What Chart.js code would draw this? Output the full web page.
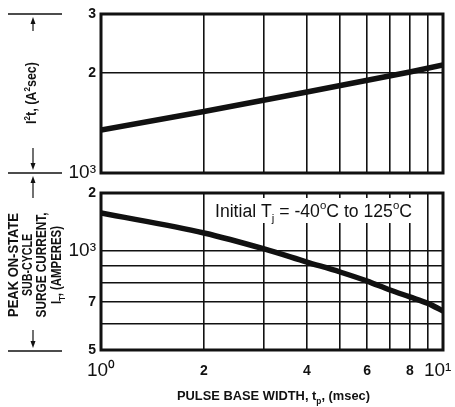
<!DOCTYPE html>
<html>
<head>
<meta charset="utf-8">
<script src="https://cdn.jsdelivr.net/npm/chart.js@4.4.1/dist/chart.umd.min.js"></script>
<style>
html,body{margin:0;padding:0;background:#fff;}
#wrap{position:relative;width:455px;height:407px;overflow:hidden;}
canvas{position:absolute;left:0;top:0;}
</style>
</head>
<body>
<div id="wrap">
<canvas id="c1" width="455" height="407"></canvas>
<canvas id="c2" width="455" height="407"></canvas>
</div>
<script>
// ---- data ----
const i2tWidth = [1, 2, 4, 8, 10];                     // msec
const i2tValues = [1346, 1530, 1750, 2010, 2110];      // A^2 sec
const surgeWidth = [1, 2, 3, 4, 5, 6, 7, 8, 9, 10];    // msec
const surgeCurrent = [1304, 1134, 1014, 925, 863, 810, 761, 725, 694, 657]; // A

const xTicks = [1, 2, 3, 4, 5, 6, 7, 8, 9, 10];
const xTickLabels = {1: '10⁰', 2: '2', 4: '4', 6: '6', 8: '8', 10: '10¹  '};
const topYTicks = [1000, 2000, 3000];
const topYTickLabels = {1000: '10³', 2000: '2', 3000: '3'};
const bottomYTicks = [500, 600, 700, 800, 900, 1000, 1500];
const bottomYTickLabels = {500: '5', 700: '7', 1000: '10³', 1500: '2'};
const bigLabels = ['10⁰', '10¹  ', '10³'];

const xTitle = [{t: 'PULSE BASE WIDTH, t'}, {t: 'p', sub: true}, {t: ', (msec)'}];
const topYTitle = [{t: 'I'}, {t: '2', sup: true}, {t: 't, (A'}, {t: '2', sup: true}, {t: 'sec)'}];
const bottomYTitle = [
  [{t: 'PEAK ON-STATE'}],
  [{t: 'SUB-CYCLE'}],
  [{t: 'SURGE CURRENT,'}],
  [{t: 'I'}, {t: 'T', sub: true}, {t: ', (AMPERES)'}]
];
const annotation = [{t: 'Initial T'}, {t: 'j', sub: true}, {t: ' = -40'}, {t: 'o', sup: true}, {t: 'C to 125'}, {t: 'o', sup: true}, {t: 'C'}];

// ---- styling ----
const BLACK = '#111';
const FAMILY = '"Liberation Sans", Arial, Helvetica, sans-serif';

function tickFontFor(labels) {
  return (ctx) => {
    const lab = ctx.tick ? labels[ctx.tick.value] : '';
    if (bigLabels.includes(lab)) return {family: FAMILY, size: 19, weight: 'normal', lineHeight: '22px'};
    return {family: FAMILY, size: 14, weight: 'bold', lineHeight: '22px'};
  };
}
function fixedTicks(values) {
  return (scale) => { scale.ticks = values.map(v => ({value: v})); };
}

function xScale(showLabels) {
  return {
    type: 'logarithmic', min: 1, max: 10,
    afterBuildTicks: fixedTicks(xTicks),
    ticks: {
      display: showLabels, autoSkip: false, maxRotation: 0, minRotation: 0,
      padding: 10, color: BLACK,
      font: tickFontFor(xTickLabels),
      callback: (v) => xTickLabels[v] ?? ''
    },
    grid: {color: BLACK, lineWidth: 1.6, drawTicks: false},
    border: {display: false},
    afterFit: (s) => { s.height = showLabels ? 57 : 0; s.paddingLeft = 0; s.paddingRight = 0; }
  };
}
function yScale(min, max, ticks, labels) {
  return {
    type: 'logarithmic', min: min, max: max,
    afterBuildTicks: fixedTicks(ticks),
    ticks: {
      autoSkip: false, padding: 5, color: BLACK,
      font: tickFontFor(labels),
      callback: (v) => labels[v] ?? ''
    },
    grid: {color: BLACK, lineWidth: 1.6, drawTicks: false},
    border: {display: false},
    afterFit: (s) => { s.width = 101; s.paddingTop = 0; s.paddingBottom = 0; }
  };
}

const framePlugin = {
  id: 'frame',
  afterDatasetsDraw(chart) {
    const {ctx, chartArea: a} = chart;
    ctx.save();
    ctx.strokeStyle = BLACK;
    ctx.lineWidth = 3;
    ctx.strokeRect(a.left, a.top, a.right - a.left, a.bottom - a.top);
    ctx.restore();
  }
};

// rich text helper: parts drawn along +x, baseline at y
function partFont(p, size, weight) {
  const fs = (p.sub || p.sup) ? size * 0.65 : size;
  return weight + ' ' + fs.toFixed(2) + 'px ' + FAMILY;
}
function drawRich(ctx, parts, x, y, size, weight, targetW, align) {
  let W = 0;
  for (const p of parts) { ctx.font = partFont(p, size, weight); W += ctx.measureText(p.t).width; }
  const k = targetW ? targetW / W : 1;
  ctx.save();
  ctx.translate(x, y);
  ctx.scale(k, 1);
  ctx.textAlign = 'left';
  ctx.textBaseline = 'alphabetic';
  ctx.fillStyle = BLACK;
  let cx = align === 'center' ? -W / 2 : 0;
  for (const p of parts) {
    ctx.font = partFont(p, size, weight);
    const dy = p.sub ? size * 0.28 : (p.sup ? -size * 0.42 : 0);
    ctx.fillText(p.t, cx, dy);
    cx += ctx.measureText(p.t).width;
  }
  ctx.restore();
}
function drawRotated(ctx, parts, cx, cy, size, weight, targetW) {
  ctx.save();
  ctx.translate(cx, cy);
  ctx.rotate(-Math.PI / 2);
  drawRich(ctx, parts, 0, size * 0.36, size, weight, targetW, 'center');
  ctx.restore();
}
function arrow(ctx, x, yFrom, yTo) {
  const dir = yTo > yFrom ? 1 : -1;
  ctx.beginPath();
  ctx.moveTo(x, yFrom);
  ctx.lineTo(x, yTo - dir * 5);
  ctx.stroke();
  ctx.beginPath();
  ctx.moveTo(x - 2.5, yTo - dir * 7);
  ctx.lineTo(x + 2.5, yTo - dir * 7);
  ctx.lineTo(x, yTo);
  ctx.closePath();
  ctx.fill();
}

const decorPlugin = {
  id: 'decor',
  afterDraw(chart) {
    const ctx = chart.ctx;
    ctx.save();
    // annotation inside lower panel
    ctx.fillStyle = '#fff';
    ctx.fillRect(209, 198, 210, 25);
    drawRich(ctx, annotation, 215, 217, 18, 'normal', 197, 'left');
    // x axis title
    drawRich(ctx, xTitle, 273.5, 400, 13, 'bold', 193, 'center');
    // left dimension lines
    ctx.strokeStyle = BLACK;
    ctx.fillStyle = BLACK;
    ctx.lineWidth = 1.5;
    for (const y of [14, 173, 351]) {
      ctx.beginPath(); ctx.moveTo(8, y); ctx.lineTo(62, y); ctx.stroke();
    }
    ctx.lineWidth = 1.2;
    arrow(ctx, 33, 31, 17);
    arrow(ctx, 33, 148, 170);
    arrow(ctx, 33, 198, 176);
    arrow(ctx, 33, 330, 348);
    // rotated axis titles
    drawRotated(ctx, topYTitle, 31, 93, 14, 'bold', 62);
    const xs = [12.5, 27, 41, 56];
    const lens = [104, 62, 105, 78];
    bottomYTitle.forEach((parts, i) => drawRotated(ctx, parts, xs[i], 265, 14, 'bold', lens[i]));
    ctx.restore();
  }
};

const common = {
  responsive: false, animation: false, devicePixelRatio: 1,
  plugins: {legend: {display: false}, tooltip: {enabled: false}}
};

new Chart(document.getElementById('c1'), {
  type: 'line',
  data: {datasets: [{
    data: i2tWidth.map((x, i) => ({x: x, y: i2tValues[i]})),
    borderColor: BLACK, borderWidth: 5.5, pointRadius: 0,
    tension: 0, fill: false
  }]},
  options: Object.assign({}, common, {
    layout: {padding: {left: 0, top: 14, right: 12, bottom: 234}},
    scales: {x: xScale(false), y: yScale(1000, 3000, topYTicks, topYTickLabels)}
  }),
  plugins: [framePlugin]
});

new Chart(document.getElementById('c2'), {
  type: 'line',
  data: {datasets: [{
    data: surgeWidth.map((x, i) => ({x: x, y: surgeCurrent[i]})),
    borderColor: BLACK, borderWidth: 5.5, pointRadius: 0,
    cubicInterpolationMode: 'monotone', fill: false
  }]},
  options: Object.assign({}, common, {
    layout: {padding: {left: 0, top: 193, right: 12, bottom: 0}},
    scales: {x: xScale(true), y: yScale(500, 1500, bottomYTicks, bottomYTickLabels)}
  }),
  plugins: [framePlugin, decorPlugin]
});
</script>
</body>
</html>
